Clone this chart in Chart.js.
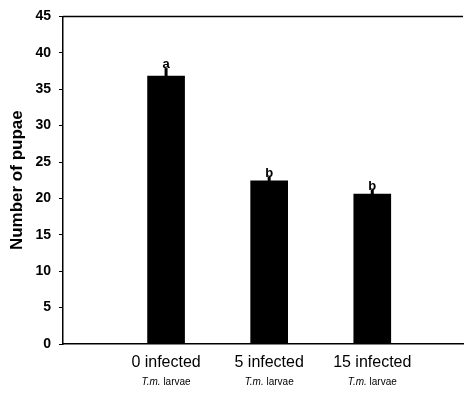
<!DOCTYPE html>
<html>
<head>
<meta charset="utf-8">
<script src="https://cdn.jsdelivr.net/npm/chart.js@4.4.0/dist/chart.umd.min.js"></script>
<style>
  html, body { margin: 0; padding: 0; background: #fff; }
  #wrap { width: 468px; height: 393px; }
</style>
</head>
<body>
<div id="wrap"><canvas id="pupae"></canvas></div>
<script>
// data
const groups = ['0 infected', '5 infected', '15 infected'];
const positions = [1, 2, 3];
const pupae = [36.8, 22.4, 20.6];
const errors = [1.1, 0.6, 0.6];
const letters = ['a', 'b', 'b'];
const yTicks = [0, 5, 10, 15, 20, 25, 30, 35, 40, 45];

const points = positions.map((p, i) => ({ x: p, y: pupae[i] }));

// error stubs + letters + second label line
const extras = {
  id: 'extras',
  afterDatasetsDraw(chart) {
    const c = chart.ctx;
    const xs = chart.scales.x, ys = chart.scales.y;
    c.save();
    positions.forEach((p, i) => {
      const x = xs.getPixelForValue(p);
      const yTop = ys.getPixelForValue(pupae[i] + errors[i]);
      const yBar = ys.getPixelForValue(pupae[i]);
      c.strokeStyle = '#000';
      c.lineWidth = 3;
      c.beginPath();
      c.moveTo(x, yBar);
      c.lineTo(x, yTop);
      c.stroke();
      c.fillStyle = '#000';
      c.font = 'bold 13px Arial, "Liberation Sans"';
      c.textAlign = 'center';
      c.textBaseline = 'bottom';
      c.fillText(letters[i], x, yTop + 3);
    });
    // "T.m. larvae" line
    const yLine = chart.chartArea.bottom + 38;
    c.textBaseline = 'middle';
    positions.forEach(p => {
      const x = xs.getPixelForValue(p);
      c.font = 'italic 10px Arial, "Liberation Sans"';
      const a = 'T.m. ';
      const wa = c.measureText(a).width;
      c.font = '10px Arial, "Liberation Sans"';
      const wb = c.measureText('larvae').width;
      const x0 = x - (wa + wb) / 2;
      c.textAlign = 'left';
      c.font = 'italic 10px Arial, "Liberation Sans"';
      c.fillText(a, x0, yLine);
      c.font = '10px Arial, "Liberation Sans"';
      c.fillText('larvae', x0 + wa, yLine);
    });
    // top frame line at 45
    c.strokeStyle = '#000';
    c.lineWidth = 1.5;
    c.beginPath();
    c.moveTo(chart.chartArea.left, ys.getPixelForValue(45));
    c.lineTo(chart.chartArea.right, ys.getPixelForValue(45));
    c.stroke();
    c.restore();
  }
};

new Chart(document.getElementById('pupae'), {
  type: 'bar',
  data: {
    datasets: [{
      data: points,
      backgroundColor: '#000',
      borderWidth: 0,
      barThickness: 37
    }]
  },
  options: {
    responsive: true,
    maintainAspectRatio: false,
    animation: false,
    layout: { padding: { top: 10, right: 5, bottom: 4, left: 6 } },
    plugins: { legend: { display: false }, tooltip: { enabled: false } },
    scales: {
      x: {
        type: 'linear',
        offset: false,
        min: 0,
        max: 3.88,
        grid: { display: false },
        border: { display: true, color: '#000', width: 1.5 },
        afterBuildTicks(scale) {
          scale.ticks = positions.map(v => ({ value: v }));
        },
        ticks: {
          color: '#000',
          font: { family: 'Arial, "Liberation Sans"', size: 16 },
          padding: 1,
          maxRotation: 0,
          autoSkip: false,
          callback: v => groups[positions.indexOf(v)] || ''
        },
        afterFit(scale) { scale.height = 45; }
      },
      y: {
        min: 0,
        max: 45,
        afterBuildTicks(scale) {
          scale.ticks = yTicks.map(v => ({ value: v }));
        },
        grid: {
          drawOnChartArea: false,
          drawTicks: true,
          tickLength: 4,
          tickColor: '#000'
        },
        border: { display: true, color: '#000', width: 1.5 },
        ticks: {
          color: '#000',
          font: { family: 'Arial, "Liberation Sans"', size: 14, weight: 'bold' },
          padding: 8
        },
        title: {
          display: true,
          text: 'Number of pupae',
          color: '#000',
          font: { family: 'Arial, "Liberation Sans"', size: 17, weight: 'bold' },
          padding: { top: 1, bottom: 0 }
        }
      }
    }
  },
  plugins: [extras]
});
</script>
</body>
</html>
